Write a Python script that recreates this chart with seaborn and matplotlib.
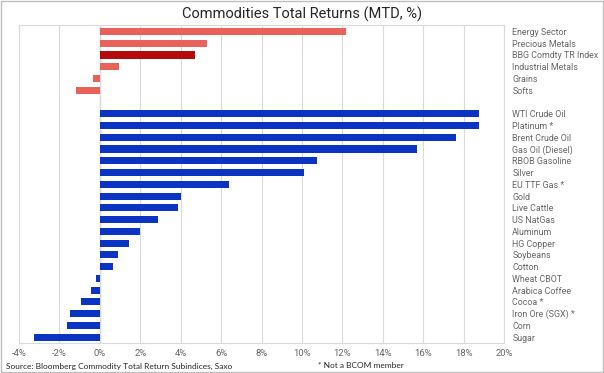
import pandas as pd
import matplotlib.pyplot as plt
import seaborn as sns

# sector aggregates (top block)
sectors = ['Energy Sector', 'Precious Metals', 'BBG Comdty TR Index',
           'Industrial Metals', 'Grains', 'Softs']
sector_returns = [12.2, 5.3, 4.7, 0.95, -0.34, -1.18]

# single commodities (bottom block)
commodities = ['WTI Crude Oil', 'Platinum *', 'Brent Crude Oil', 'Gas Oil (Diesel)',
               'RBOB Gasoline', 'Silver', 'EU TTF Gas *', 'Gold', 'Live Cattle',
               'US NatGas', 'Aluminum', 'HG Copper', 'Soybeans', 'Cotton',
               'Wheat CBOT', 'Arabica Coffee', 'Cocoa *', 'Iron Ore (SGX) *',
               'Corn', 'Sugar']
commodity_returns = [18.74, 18.74, 17.63, 15.71, 10.74, 10.11, 6.41, 4.01, 3.85,
                     2.86, 1.97, 1.43, 0.88, 0.67, -0.21, -0.42, -0.94, -1.47,
                     -1.64, -3.28]

xticks = list(range(-4, 21, 2))

RED = '#E8625A'
DARK_RED = '#B30B0B'
BLUE = '#0B34C2'

df = pd.DataFrame({
    'name': sectors + commodities,
    'ret': sector_returns + commodity_returns,
})
order = sectors + [' '] + commodities   # empty row between the two blocks

palette = {s: RED for s in sectors}
palette['BBG Comdty TR Index'] = DARK_RED
palette.update({c: BLUE for c in commodities})

sns.set_theme(style='white')
plt.rcParams['font.family'] = ['Roboto', 'DejaVu Sans']

fig = plt.figure(figsize=(6.04, 3.73), dpi=100)
ax = fig.add_axes([19 / 604, 1 - 343 / 373, (504 - 19) / 604, (343 - 25) / 373])

sns.barplot(data=df, x='ret', y='name', order=order, hue='name',
            palette=palette, legend=False, width=0.6, orient='h',
            saturation=1, edgecolor='none', ax=ax)

ax.set_xlim(-4, 20)
ax.set_ylim(26.5, -0.55)
ax.set_xticks(xticks)
ax.set_xticklabels([f'{t}%' for t in xticks], fontsize=6.8, color='#666666')
ax.xaxis.grid(True, color='#D9D9D9', linewidth=0.8)
ax.set_axisbelow(True)
ax.axvline(0, color='#BFBFBF', linewidth=0.9, zorder=0.5)
ax.set_xlabel('')
ax.set_ylabel('')

ax.yaxis.tick_right()
ax.tick_params(axis='y', length=0, pad=6, labelsize=6.4, labelcolor='#666666')
ax.tick_params(axis='x', length=0, pad=4)
for lbl in ax.get_yticklabels():
    lbl.set_horizontalalignment('left')

for sp in ax.spines.values():
    sp.set_color('#D9D9D9')
    sp.set_linewidth(0.8)

fig.text(0.5, 1 - 14 / 373, 'Commodities Total Returns (MTD, %)',
         ha='center', va='center', fontsize=10.5, color='#262626')
fig.text(6 / 604, 1 - 366 / 373,
         'Source: Bloomberg Commodity Total Return Subindices, Saxo',
         ha='left', va='center', fontsize=6, color='#262626', family=['Lato', 'DejaVu Sans'])
fig.text(318 / 604, 1 - 366 / 373, '* Not a BCOM member',
         ha='left', va='center', fontsize=6, color='#262626', family=['Lato', 'DejaVu Sans'])

# thin frame around the whole picture
fig.patches.append(plt.Rectangle((0.001, 0.002), 0.997, 0.995, transform=fig.transFigure,
                                 fill=False, edgecolor='#BFBFBF', linewidth=1))

fig.savefig('out.png', dpi=100)
